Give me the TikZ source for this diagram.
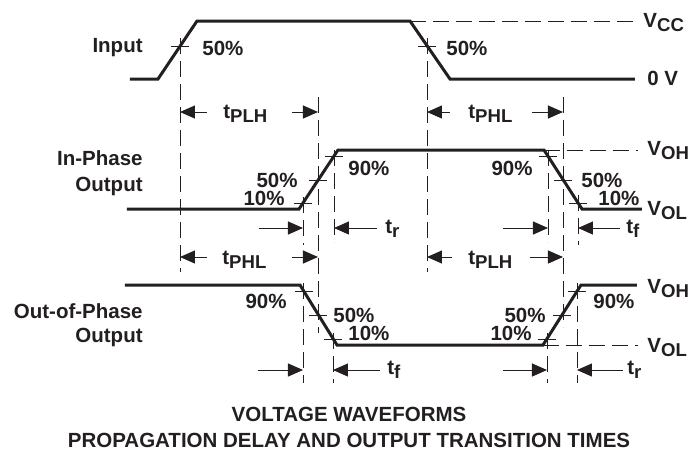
\documentclass[tikz,border=0pt]{standalone}
\usepackage{fontspec}
\setmainfont{Liberation Sans}
\usepackage{xcolor}
\usetikzlibrary{arrows.meta}

\definecolor{ink}{RGB}{35,31,32}
% lowered subscript as printed in the data sheet
\newcommand{\lsub}[1]{\raisebox{-2.4pt}{\fontsize{9.3}{10}\selectfont #1}}

\begin{document}
\begin{tikzpicture}[x=0.5pt,y=-0.5pt,
  wave/.style={ink, line width=1.5pt, line join=miter},
  guide/.style={ink, line width=0.45pt, dash pattern=on 8pt off 3.5pt},
  tick/.style={ink, line width=0.45pt},
  dim/.style={ink, line width=0.5pt, -{Triangle[length=7.5pt,width=6.5pt]}},
  lbl/.style={ink, font=\bfseries\fontsize{10.25}{12}\selectfont, inner sep=0pt}]

  \useasboundingbox (0,0) rectangle (693,452);

  % ==========================================
  % Input waveform
  % ==========================================
  \draw[wave] (130,79) -- (158,79) -- (197,21) -- (410,21) -- (450,79) -- (635,79);
  \draw[guide] (410,21) -- (633,21);
  \draw[tick] (171,46) -- (189,46);
  \draw[tick] (418,46) -- (436,46);

  \node[lbl, anchor=base east] (input) at (143,52) {Input};
  \node[lbl, anchor=base west] (inrise) at (202,55) {50\%};
  \node[lbl, anchor=base west] (infall) at (446,55) {50\%};
  \node[lbl, anchor=base west] (vcc) at (643,27) {V\lsub{CC}};
  \node[lbl, anchor=base west] (zero) at (647,85) {0 V};

  % ==========================================
  % In-phase output
  % ==========================================
  \draw[wave] (127,209) -- (299,209) -- (338,150) -- (544,150) -- (582,209) -- (642,209);
  \draw[guide] (544,150) -- (638,150);
  % ticks at 10%, 50%, 90%
  \draw[tick] (294,203) -- (312,203);
  \draw[tick] (309,180) -- (327,180);
  \draw[tick] (325,156) -- (343,156);
  \draw[tick] (539,156) -- (557,156);
  \draw[tick] (554,180) -- (572,180);
  \draw[tick] (569,203) -- (587,203);

  \node[lbl, anchor=base east] (ipa) at (143,165) {In-Phase};
  \node[lbl, anchor=base east] (ipb) at (143,191) {Output};
  \node[lbl, anchor=base east] (ip50a) at (298,187) {50\%};
  \node[lbl, anchor=base east] (ip10a) at (285,205) {10\%};
  \node[lbl, anchor=base west] (ip90a) at (348,175) {90\%};
  \node[lbl, anchor=base east] (ip90b) at (533,175) {90\%};
  \node[lbl, anchor=base west] (ip50b) at (581,187) {50\%};
  \node[lbl, anchor=base west] (ip10b) at (598,205) {10\%};
  \node[lbl, anchor=base west] (ipvoh) at (647,155) {V\lsub{OH}};
  \node[lbl, anchor=base west] (ipvol) at (647,215) {V\lsub{OL}};

  % ==========================================
  % Out-of-phase output
  % ==========================================
  \draw[wave] (125,285) -- (300,285) -- (337,345) -- (543,345) -- (581,285) -- (637,285);
  \draw[guide] (543,345) -- (638,345);
  % ticks at 90%, 50%, 10%
  \draw[tick] (295,291) -- (313,291);
  \draw[tick] (309,315) -- (327,315);
  \draw[tick] (324,339) -- (342,339);
  \draw[tick] (538,339) -- (556,339);
  \draw[tick] (553,315) -- (571,315);
  \draw[tick] (568,291) -- (586,291);

  \node[lbl, anchor=base east] (opa) at (143,318) {Out-of-Phase};
  \node[lbl, anchor=base east] (opb) at (143,342) {Output};
  \node[lbl, anchor=base east] (op90a) at (287,308) {90\%};
  \node[lbl, anchor=base west] (op50a) at (333,322) {50\%};
  \node[lbl, anchor=base west] (op10a) at (348,340) {10\%};
  \node[lbl, anchor=base east] (op50b) at (546,322) {50\%};
  \node[lbl, anchor=base east] (op10b) at (532,340) {10\%};
  \node[lbl, anchor=base west] (op90b) at (593,308) {90\%};
  \node[lbl, anchor=base west] (opvoh) at (647,293) {V\lsub{OH}};
  \node[lbl, anchor=base west] (opvol) at (647,352) {V\lsub{OL}};

  % ==========================================
  % Timing guides and arrows
  % ==========================================
  \draw[guide] (180,38) -- (180,272);
  \draw[guide] (427,38) -- (427,272);
  \draw[guide] (318,97) -- (318,333);
  \draw[guide] (563,97) -- (563,327);
  \draw[guide] (303,197) -- (303,245);
  \draw[guide] (334,150) -- (334,242);
  \draw[guide] (548,150) -- (548,242);
  \draw[guide] (578,195) -- (578,245);
  \draw[guide] (303,283) -- (303,383);
  \draw[guide] (333,333) -- (333,383);
  \draw[guide] (547,333) -- (547,383);
  \draw[guide] (577,283) -- (577,383);

  % propagation delays
  \draw[dim] (207,112) -- (180,112);
  \draw[dim] (292,112) -- (318,112);
  \node[lbl, anchor=base west] (tplha) at (223,118) {t\lsub{PLH}};
  \draw[dim] (450,112) -- (427,112);
  \draw[dim] (532,112) -- (563,112);
  \node[lbl, anchor=base west] (tphla) at (468,118) {t\lsub{PHL}};
  \draw[dim] (207,257) -- (180,257);
  \draw[dim] (292,257) -- (318,257);
  \node[lbl, anchor=base west] (tphlb) at (222,264) {t\lsub{PHL}};
  \draw[dim] (452,257) -- (427,257);
  \draw[dim] (530,257) -- (563,257);
  \node[lbl, anchor=base west] (tplhb) at (468,264) {t\lsub{PLH}};

  % transition times
  \draw[dim] (259,228) -- (303,228);
  \draw[dim] (377,228) -- (334,228);
  \node[lbl, anchor=base west] (tra) at (385,233) {t\lsub{r}};
  \draw[dim] (503,228) -- (548,228);
  \draw[dim] (620,228) -- (578,228);
  \node[lbl, anchor=base west] (tfa) at (626,233) {t\lsub{f}};
  \draw[dim] (258,370) -- (303,370);
  \draw[dim] (380,370) -- (333,370);
  \node[lbl, anchor=base west] (tfb) at (387,374) {t\lsub{f}};
  \draw[dim] (503,370) -- (547,370);
  \draw[dim] (623,370) -- (577,370);
  \node[lbl, anchor=base west] (trb) at (627,374) {t\lsub{r}};

  % caption
  \node[lbl, anchor=base] (capa) at (349,421) {VOLTAGE WAVEFORMS};
  \node[lbl, anchor=base] (capb) at (349,447) {PROPAGATION DELAY AND OUTPUT TRANSITION TIMES};

\end{tikzpicture}
\end{document}
